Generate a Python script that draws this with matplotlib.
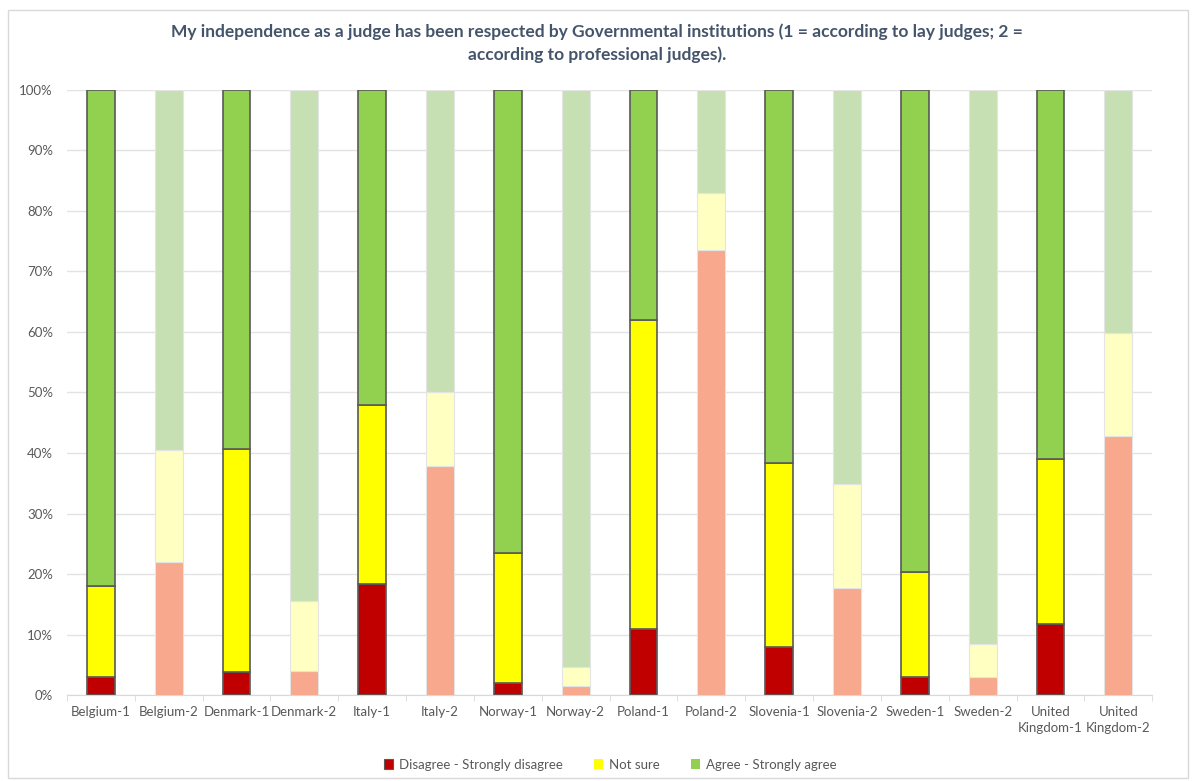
import numpy as np
import matplotlib.pyplot as plt
from matplotlib.patches import Rectangle, Patch

plt.rcParams['font.family'] = ['Lato', 'DejaVu Sans']

# Categories (1 = lay judges, 2 = professional judges)
CATEGORIES = ['Belgium-1', 'Belgium-2', 'Denmark-1', 'Denmark-2', 'Italy-1', 'Italy-2',
              'Norway-1', 'Norway-2', 'Poland-1', 'Poland-2', 'Slovenia-1', 'Slovenia-2',
              'Sweden-1', 'Sweden-2', 'United\nKingdom-1', 'United\nKingdom-2']

# Shares in percent
disagree = [3.0, 22.0, 3.8, 4.0, 18.4, 37.8, 2.0, 1.5, 10.9, 73.6, 7.9, 17.7, 3.0, 3.0, 11.7, 42.8]
not_sure = [15.1, 18.5, 36.9, 11.5, 29.5, 12.2, 21.5, 3.2, 51.1, 9.4, 30.4, 17.1, 17.3, 5.4, 27.3, 17.0]
agree = [81.9, 59.5, 59.3, 84.5, 52.1, 50.0, 76.5, 95.3, 38.0, 17.0, 61.7, 65.2, 79.7, 91.6, 61.0, 40.2]

SERIES = ['Disagree - Strongly disagree', 'Not sure', 'Agree - Strongly agree']
DARK = ['#C00000', '#FFFF00', '#92D050']
LIGHT = ['#F8A88C', '#FFFFC2', '#C6E0B4']

TEXT = '#595959'
TITLE = '#44546A'


def main():
    fig = plt.figure(figsize=(11.94, 7.81), dpi=100)
    # light border around the whole chart, as in the export
    fig.patches.append(Rectangle((0.007, 0.004), 0.988, 0.983, transform=fig.transFigure,
                                 fill=False, edgecolor='#D9D9D9', linewidth=1))
    ax = fig.add_axes([0.056, 0.110, 0.909, 0.775])

    x = np.arange(len(CATEGORIES))
    data = np.array([disagree, not_sure, agree])
    bottoms = np.zeros(len(CATEGORIES))
    for s in range(3):
        for i in range(len(CATEGORIES)):
            lay = i % 2 == 0
            ax.bar(x[i], data[s][i], bottom=bottoms[i], width=0.41,
                   color=DARK[s] if lay else LIGHT[s],
                   edgecolor='#595959' if lay else '#E4E4E4',
                   linewidth=1.2 if lay else 0.8, zorder=3)
        bottoms += data[s]

    ax.set_xlim(-0.5, len(CATEGORIES) - 0.5)
    ax.set_ylim(0, 100)
    ax.set_yticks(np.arange(0, 101, 10))
    ax.set_yticklabels([f'{v}%' for v in range(0, 101, 10)])
    ax.set_xticks(x)
    ax.set_xticklabels(CATEGORIES, linespacing=1.35)
    ax.set_xticks(np.arange(-0.5, len(CATEGORIES), 1), minor=True)
    ax.tick_params(axis='x', which='major', length=0, pad=8, labelsize=9.5, colors=TEXT)
    ax.tick_params(axis='x', which='minor', length=4, color='#D9D9D9', direction='out')
    ax.tick_params(axis='y', length=0, pad=10, labelsize=9.5, colors=TEXT)

    ax.grid(axis='y', color='#E3E3E3', linewidth=1, zorder=0)
    for side in ['top', 'right', 'left']:
        ax.spines[side].set_visible(False)
    ax.spines['bottom'].set_color('#D9D9D9')

    fig.text(0.5, 0.945,
             'My independence as a judge has been respected by Governmental institutions '
             '(1 = according to lay judges; 2 =\naccording to professional judges).',
             ha='center', va='center', fontsize=12.5, fontweight='bold', color=TITLE,
             linespacing=1.5)

    handles = [Patch(facecolor=DARK[s], edgecolor='#595959' if s == 0 else 'none', linewidth=0.8)
               for s in range(3)]
    fig.legend(handles, SERIES, loc='center', bbox_to_anchor=(0.511, 0.021), ncol=3,
               frameon=False, fontsize=9.5, labelcolor=TEXT, handlelength=0.7,
               handleheight=0.7, handletextpad=0.4, columnspacing=2.4)

    fig.savefig('out.png', dpi=100)


if __name__ == '__main__':
    main()
